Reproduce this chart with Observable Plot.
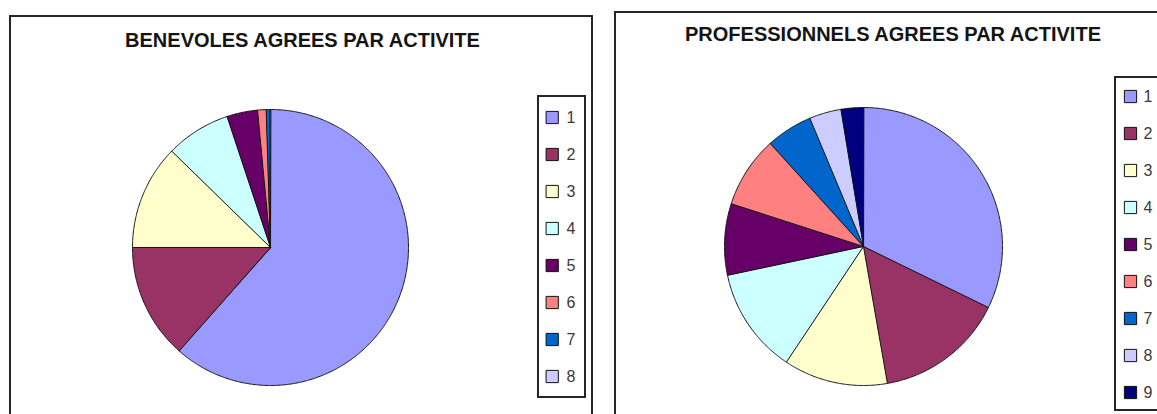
<!DOCTYPE html>
<html><head><meta charset="utf-8">
<script src="https://cdn.jsdelivr.net/npm/d3@7"></script>
<script src="https://cdn.jsdelivr.net/npm/@observablehq/plot@0.6"></script>
<style>
html,body{margin:0;padding:0;background:#fff;}
#root{position:relative;width:1157px;height:414px;overflow:hidden;font-family:"Liberation Sans",Arial,sans-serif;background:#fff;}
.box{position:absolute;border:2px solid #262626;box-sizing:border-box;background:#fff;}
.title{position:absolute;font-weight:bold;font-size:20px;color:#141414;white-space:nowrap;transform:translateX(-50%);line-height:20px;}
.abs{position:absolute;}
.abs svg{display:block;overflow:visible;max-width:none !important;}
</style></head><body><div id="root"></div>
<script>
// ---- data ----
const categories1 = ["1", "2", "3", "4", "5", "6", "7", "8"];
const values1 = [61.5, 13.5, 12.3, 7.6, 3.6, 1.0, 0.4, 0.1];
const categories2 = ["1", "2", "3", "4", "5", "6", "7", "8", "9"];
const values2 = [32.2, 15.0, 12.1, 12.3, 8.3, 8.3, 5.4, 3.7, 2.6];
const colors = ["#9999FF", "#993366", "#FFFFCC", "#CCFFFF", "#660066", "#FF8080", "#0066CC", "#CCCCFF", "#000080"];
const title1 = "BENEVOLES AGREES PAR ACTIVITE";
const title2 = "PROFESSIONNELS AGREES PAR ACTIVITE";

const root = document.getElementById("root");

function el(cls, style, html) {
  const d = document.createElement("div");
  d.className = cls;
  Object.assign(d.style, style);
  if (html !== undefined) d.textContent = html;
  root.appendChild(d);
  return d;
}

function sliceFeatures(cats, vals) {
  const arcs = d3.pie().sort(null).value(d => d.v)(cats.map((c, i) => ({c, v: vals[i]})));
  return arcs.map(a => {
    const span = a.endAngle - a.startAngle;
    const n = Math.max(2, Math.ceil(span / (Math.PI / 360)));
    const ring = [[0, 0]];
    for (let k = 0; k <= n; k++) {
      const t = a.startAngle + span * k / n;
      ring.push([Math.sin(t), Math.cos(t)]);
    }
    ring.push([0, 0]);
    return {type: "Feature", properties: {cat: a.data.c}, geometry: {type: "Polygon", coordinates: [ring]}};
  });
}

function pie(cats, vals, R) {
  const S = 2 * R + 4;
  return Plot.plot({
    width: S, height: S, margin: 0,
    projection: {type: "reflect-y", domain: {type: "MultiPoint", coordinates: [[-1, -1], [1, 1]]}, inset: 2},
    color: {domain: cats, range: colors.slice(0, cats.length)},
    marks: [
      Plot.geo(sliceFeatures(cats, vals), {fill: d => d.properties.cat, stroke: "#151515", strokeWidth: 1})
    ]
  });
}

function legend(cats, w, h, sx, tx, y0, y1) {
  return Plot.plot({
    width: w, height: h, margin: 0,
    x: {domain: [0, 1], range: [sx, tx], axis: null},
    y: {type: "point", domain: cats, range: [y0, y1], padding: 0, axis: null},
    color: {domain: cats, range: colors.slice(0, cats.length)},
    marks: [
      Plot.dot(cats, {x: () => 0, y: d => d, fill: d => d, stroke: "#111", strokeWidth: 1, symbol: "square", r: 6.9}),
      Plot.text(cats, {x: () => 1, y: d => d, text: d => d, textAnchor: "start", fontSize: 16, fill: "#3a3a3a", fontFamily: "Liberation Sans, Arial, sans-serif"})
    ]
  });
}

// left panel
el("box", {left: "9px", top: "15px", width: "584px", height: "430px"});
el("title", {left: "302.5px", top: "30px"}, title1);
el("abs", {left: (270 - 140) + "px", top: (247 - 140) + "px", width: "280px"}).appendChild(pie(categories1, values1, 138));
el("box", {left: "537px", top: "95px", width: "49px", height: "303px"});
el("abs", {left: "537px", top: "95px", width: "49px"}).appendChild(legend(categories1, 49, 303, 14.7, 29, 21, 282));

// right panel
el("box", {left: "614px", top: "11px", width: "600px", height: "430px"});
el("title", {left: "893px", top: "24px"}, title2);
el("abs", {left: (863 - 141) + "px", top: (246 - 141) + "px", width: "282px"}).appendChild(pie(categories2, values2, 139));
el("box", {left: "1114px", top: "76px", width: "60px", height: "335px"});
el("abs", {left: "1114px", top: "76px", width: "60px"}).appendChild(legend(categories2, 60, 335, 16, 29, 19, 316));
</script>
</body></html>
